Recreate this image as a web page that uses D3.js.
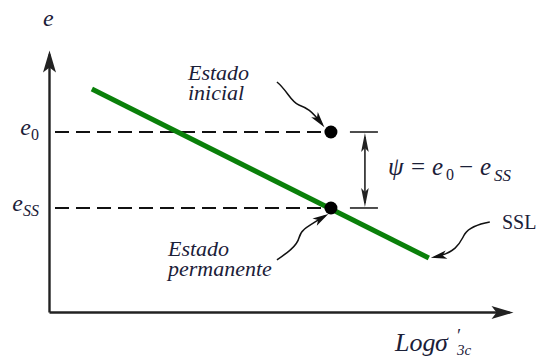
<!DOCTYPE html>
<html>
<head>
<meta charset="utf-8">
<script src="https://cdn.jsdelivr.net/npm/d3@7"></script>
<style>
  html, body { margin: 0; padding: 0; background: #fff; }
  svg { display: block; }
</style>
</head>
<body>
<svg id="chart" width="539" height="358"></svg>
<script>
// Schematic: void ratio e vs. log of effective confining stress.
// Values are in arbitrary schematic units (0..10 on both axes).

// Steady-state line (SSL) end points
const sslX = [0.92, 8.15];
const sslE = [8.51, 2.06];

// Reference void ratio levels and their axis labels
const levelNames = ["e0", "ess"];
const levelValues = [6.87, 3.97];
const tickLabels = [{ base: "e", sub: "0" }, { base: "e", sub: "SS" }];

// States: initial state and steady (permanent) state
const stateNames = ["inicial", "permanente"];
const stateX = [6.05, 6.05];
const stateE = [6.87, 3.97];
const stateLabels = [["Estado", "inicial"], ["Estado", "permanente"]];

const svg = d3.select("#chart");
const ink = "#1b2038";
const axisInk = "#222";
const serif = '"Liberation Serif", "Times New Roman", serif';

const x = d3.scaleLinear().domain([0, 10]).range([49, 515]);
const y = d3.scaleLinear().domain([0, 10]).range([312, 50]);

// Arrowhead markers
const defs = svg.append("defs");
function marker(id, len, half, back, color) {
  defs.append("marker")
    .attr("id", id)
    .attr("viewBox", `${-len - 1} ${-half - 1} ${len + 6} ${2 * half + 2}`)
    .attr("refX", 0).attr("refY", 0)
    .attr("markerUnits", "userSpaceOnUse")
    .attr("markerWidth", len + 6).attr("markerHeight", 2 * half + 2)
    .attr("orient", "auto-start-reverse")
    .append("path")
    .attr("d", `M4,0 L${-len},${-half} L${-len + back},0 L${-len},${half} Z`)
    .attr("fill", color);
}
marker("axisHead", 18, 6.5, 5, axisInk);
marker("dimHead", 15, 3.8, 4, axisInk);
marker("noteHead", 12, 4.2, 4, "#111");

// Axes (no numeric ticks, only arrowed lines)
const xAxis = d3.axisBottom(x).tickValues([]).tickSizeOuter(0);
const yAxis = d3.axisLeft(y).tickValues([]).tickSizeOuter(0);
x.range([49, 509]);
svg.append("g").attr("transform", `translate(0,${y(0)})`).call(xAxis)
  .select(".domain").attr("stroke", axisInk).attr("stroke-width", 2.4)
  .attr("marker-end", "url(#axisHead)");
x.range([49, 515]);
y.range([312, 54]);
svg.append("g").attr("transform", `translate(${x(0)},0)`).call(yAxis)
  .select(".domain").attr("stroke", axisInk).attr("stroke-width", 2.4)
  .attr("marker-end", "url(#axisHead)");
y.range([312, 50]);

// Dashed reference levels from the e axis to the states
svg.selectAll("line.level")
  .data(levelValues)
  .join("line")
  .attr("class", "level")
  .attr("x1", x(0) + 6).attr("x2", (d, i) => x(stateX[i]) - 4)
  .attr("y1", d => y(d)).attr("y2", d => y(d))
  .attr("stroke", "#111").attr("stroke-width", 2)
  .attr("stroke-dasharray", "14 7");

// Level labels on the e axis
const lab = svg.selectAll("text.level")
  .data(tickLabels)
  .join("text")
  .attr("class", "level")
  .attr("x", x(0) - 10)
  .attr("y", (d, i) => y(levelValues[i]) + 3)
  .attr("text-anchor", "end")
  .style("font-family", serif)
  .attr("font-style", "italic")
  .attr("font-size", 24)
  .attr("fill", ink);
lab.append("tspan").text(d => d.base);
lab.append("tspan").attr("dy", 5).attr("font-size", 16)
  .attr("font-style", d => d.sub === "0" ? "normal" : "italic")
  .text(d => d.sub);

// Steady-state line
svg.append("line")
  .attr("x1", x(sslX[0])).attr("y1", y(sslE[0]))
  .attr("x2", x(sslX[1])).attr("y2", y(sslE[1]))
  .attr("stroke", "#0a800a").attr("stroke-width", 5);

// State points
svg.selectAll("circle.state")
  .data(stateX)
  .join("circle")
  .attr("class", "state")
  .attr("cx", d => x(d)).attr("cy", (d, i) => y(stateE[i]))
  .attr("r", 6.5).attr("fill", "#000");

// Dimension for psi = e0 - ess
const dimX = x(stateX[0]) + 34;
const gDim = svg.append("g").attr("stroke", axisInk);
levelValues.forEach(v => {
  gDim.append("line")
    .attr("x1", dimX - 15).attr("x2", dimX + 13)
    .attr("y1", y(v)).attr("y2", y(v))
    .attr("stroke-width", 1.6);
});
gDim.append("line")
  .attr("x1", dimX).attr("x2", dimX)
  .attr("y1", y(levelValues[0]) + 5).attr("y2", y(levelValues[1]) - 5)
  .attr("stroke-width", 1.6)
  .attr("marker-start", "url(#dimHead)")
  .attr("marker-end", "url(#dimHead)");

// psi = e0 - ess
const eqY = (y(levelValues[0]) + y(levelValues[1])) / 2 + 5;
const eq = svg.append("text")
  .attr("y", eqY)
  .style("font-family", serif)
  .attr("font-size", 25)
  .attr("fill", ink);
eq.append("tspan").attr("x", dimX + 23).attr("font-style", "italic").text("ψ");
eq.append("tspan").attr("x", dimX + 46).text("=");
eq.append("tspan").attr("x", dimX + 67).attr("font-style", "italic").text("e");
eq.append("tspan").attr("x", dimX + 81).attr("dy", 5).attr("font-size", 16).text("0");
eq.append("tspan").attr("x", dimX + 94).attr("dy", -5).text("−");
eq.append("tspan").attr("x", dimX + 115).attr("font-style", "italic").text("e");
eq.append("tspan").attr("x", dimX + 129).attr("dy", 6).attr("font-size", 17)
  .attr("font-style", "italic").text("SS");

// State annotations with curved leader arrows
const notes = [
  { i: 0, tx: 188, ty: 80, path: "M-54,-50 C-44,-42 -40,-30 -32,-27 S-20,-22 -9,-8" },
  { i: 1, tx: 168, ty: 256, path: "M-54,52 C-44,45 -34,38 -32,30 S-26,20 -6,8" }
];
notes.forEach(n => {
  const cx = x(stateX[n.i]), cy = y(stateE[n.i]);
  svg.append("path")
    .attr("transform", `translate(${cx},${cy})`)
    .attr("d", n.path)
    .attr("fill", "none").attr("stroke", "#111").attr("stroke-width", 1.5)
    .attr("marker-end", "url(#noteHead)");
  const t = svg.append("text")
    .style("font-family", serif)
    .attr("font-style", "italic")
    .attr("font-size", 22).attr("fill", ink);
  stateLabels[n.i].forEach((s, k) => {
    t.append("tspan").attr("x", n.tx).attr("y", n.ty + k * 20).text(s);
  });
});

// SSL label and leader
const sx = x(sslX[1]), sy = y(sslE[1]);
svg.append("path")
  .attr("transform", `translate(${sx},${sy})`)
  .attr("d", "M61,-36 C50,-34 40,-30 36,-24 S30,-6 6,-1")
  .attr("fill", "none").attr("stroke", "#111").attr("stroke-width", 1.5)
  .attr("marker-end", "url(#noteHead)");
svg.append("text")
  .attr("x", 502).attr("y", 229)
  .style("font-family", serif)
  .attr("font-size", 20).attr("fill", ink)
  .text("SSL");

// Axis titles
svg.append("text")
  .attr("x", x(0) - 6).attr("y", 26)
  .style("font-family", serif)
  .attr("font-style", "italic")
  .attr("font-size", 24).attr("fill", ink)
  .text("e");

const xt = svg.append("text")
  .attr("y", 351)
  .style("font-family", serif)
  .attr("font-style", "italic")
  .attr("font-size", 26).attr("fill", ink);
xt.append("tspan").attr("x", 395).text("Log");
xt.append("tspan").attr("x", 435).text("σ");
xt.append("tspan").attr("x", 456).attr("dy", -9).attr("font-size", 18).text("′");
xt.append("tspan").attr("x", 457).attr("dy", 13).attr("font-size", 15).text("3c");
</script>
</body>
</html>
